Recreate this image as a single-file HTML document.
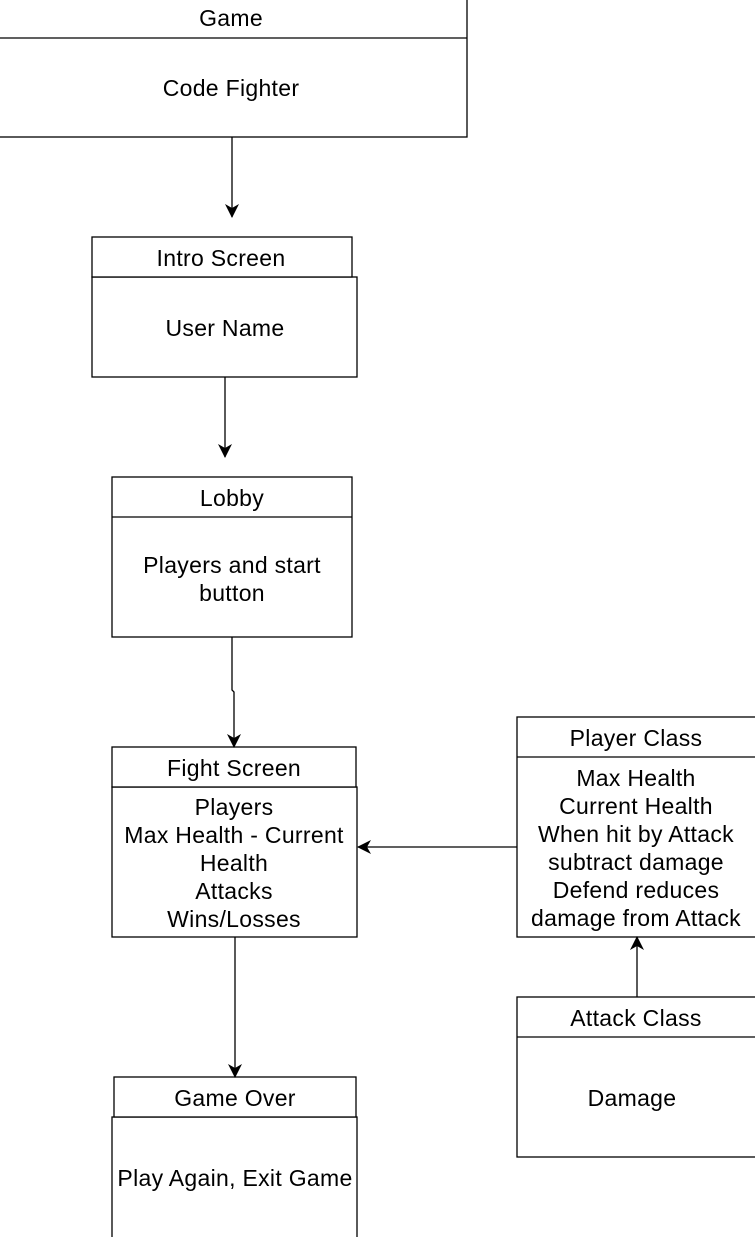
<!DOCTYPE html>
<html><head><meta charset="utf-8"><style>
html,body{margin:0;padding:0;background:#fff;}
svg{display:block;}
text{font-family:"Liberation Sans",Arial,sans-serif;font-size:23px;letter-spacing:0.3px;fill:#000;text-anchor:middle;}
</style></head><body>
<svg width="755" height="1237" viewBox="0 0 755 1237" xmlns="http://www.w3.org/2000/svg">
<defs>
<marker id="a" markerWidth="14" markerHeight="14" refX="13" refY="7" orient="auto" markerUnits="userSpaceOnUse">
<path d="M0,0 L14,7 L0,14 L4,7 Z" fill="#000"/>
</marker>
</defs>
<g fill="#fff" stroke="#000" stroke-width="1.3">
<rect x="-5" y="-5" width="472" height="142"/>
<line x1="-5" y1="38" x2="467" y2="38"/>
<rect x="92" y="277" width="265" height="100"/>
<rect x="92" y="237" width="260" height="40"/>
<rect x="112" y="477" width="240" height="160"/>
<line x1="112" y1="517" x2="352" y2="517"/>
<rect x="112" y="787" width="245" height="150"/>
<rect x="112" y="747" width="244" height="40"/>
<rect x="517" y="717" width="245" height="220"/>
<line x1="517" y1="757" x2="762" y2="757"/>
<rect x="517" y="997" width="245" height="160"/>
<line x1="517" y1="1037" x2="762" y2="1037"/>
<rect x="112" y="1117" width="245" height="130"/>
<rect x="114" y="1077" width="242" height="40"/>
</g>
<g stroke="#000" stroke-width="1.3" fill="none">
<line x1="232" y1="137" x2="232" y2="217" marker-end="url(#a)"/>
<line x1="225" y1="377" x2="225" y2="457" marker-end="url(#a)"/>
<polyline points="232,637 232,690 234,692 234,747" marker-end="url(#a)"/>
<line x1="517" y1="847" x2="358" y2="847" marker-end="url(#a)"/>
<line x1="637" y1="997" x2="637" y2="937" marker-end="url(#a)"/>
<line x1="235" y1="937" x2="235" y2="1077" marker-end="url(#a)"/>
</g>
<text x="231" y="26">Game</text>
<text x="231" y="96">Code Fighter</text>
<text x="221" y="266">Intro Screen</text>
<text x="225" y="336">User Name</text>
<text x="232" y="506">Lobby</text>
<text x="232" y="573">Players and start</text>
<text x="232" y="601">button</text>
<text x="234" y="776">Fight Screen</text>
<text x="234" y="815">Players</text>
<text x="234" y="843">Max Health - Current</text>
<text x="234" y="871">Health</text>
<text x="234" y="899">Attacks</text>
<text x="234" y="927">Wins/Losses</text>
<text x="636" y="746">Player Class</text>
<text x="636" y="786">Max Health</text>
<text x="636" y="814">Current Health</text>
<text x="636" y="842">When hit by Attack</text>
<text x="636" y="870">subtract damage</text>
<text x="636" y="898">Defend reduces</text>
<text x="636" y="926">damage from Attack</text>
<text x="636" y="1026">Attack Class</text>
<text x="632" y="1106">Damage</text>
<text x="235" y="1106">Game Over</text>
<text x="235" y="1186">Play Again, Exit Game</text>
</svg>
</body></html>
